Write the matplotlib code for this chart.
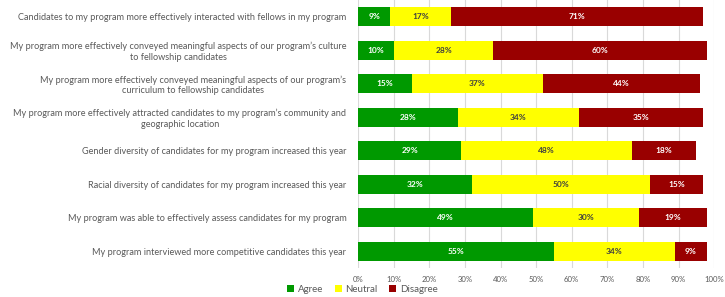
import matplotlib.pyplot as plt
import numpy as np

questions = [
    "Candidates to my program more effectively interacted with fellows in my program",
    "My program more effectively conveyed meaningful aspects of our program\u2019s culture\nto fellowship candidates",
    "My program more effectively conveyed meaningful aspects of our program\u2019s\ncurriculum to fellowship candidates",
    "My program more effectively attracted candidates to my program\u2019s community and\ngeographic location",
    "Gender diversity of candidates for my program increased this year",
    "Racial diversity of candidates for my program increased this year",
    "My program was able to effectively assess candidates for my program",
    "My program interviewed more competitive candidates this year",
]
agree = [9, 10, 15, 28, 29, 32, 49, 55]
neutral = [17, 28, 37, 34, 48, 50, 30, 34]
disagree = [71, 60, 44, 35, 18, 15, 19, 9]

plt.rcParams['font.family'] = ['Lato', 'DejaVu Sans']

fig = plt.figure(figsize=(7.25, 2.97), dpi=100)
ax = fig.add_axes([0.494, 0.098, 0.491, 0.902])

y = np.arange(len(questions))
series = [("Agree", agree, "#009900", "white"),
          ("Neutral", neutral, "#FFFF00", "#404040"),
          ("Disagree", disagree, "#990000", "white")]
left = np.zeros(len(questions))
for name, vals, col, tcol in series:
    vals = np.array(vals, dtype=float)
    bars = ax.barh(y, vals, left=left, height=0.56, color=col, label=name, zorder=3)
    for b, v in zip(bars, vals):
        ax.text(b.get_x() + b.get_width() / 2, b.get_y() + b.get_height() / 2,
                f"{int(v)}%", ha="center", va="center", color=tcol,
                fontsize=6, fontweight="bold", zorder=4)
    left += vals

ax.set_ylim(len(questions) - 0.5, -0.5)
ax.set_xlim(0, 100)
ax.set_yticks(y)
ax.set_yticklabels(questions, fontsize=6.6, color="#595959", multialignment="center")
ax.set_xticks(np.arange(0, 101, 10))
ax.set_xticklabels([f"{t}%" for t in range(0, 101, 10)], fontsize=5.6, color="#595959")
ax.tick_params(axis="both", length=0)
ax.tick_params(axis="y", pad=8.5)
ax.tick_params(axis="x", pad=6)
ax.grid(axis="x", color="#D9D9D9", linewidth=0.8, zorder=0)
for s in ax.spines.values():
    s.set_visible(False)

fig.legend(loc="lower center", bbox_to_anchor=(0.5, -0.02), ncol=3, frameon=False,
           fontsize=7, handlelength=0.7, handleheight=0.7, handletextpad=0.4,
           columnspacing=1.2, labelcolor="#595959")

fig.savefig("out.png", dpi=100)
